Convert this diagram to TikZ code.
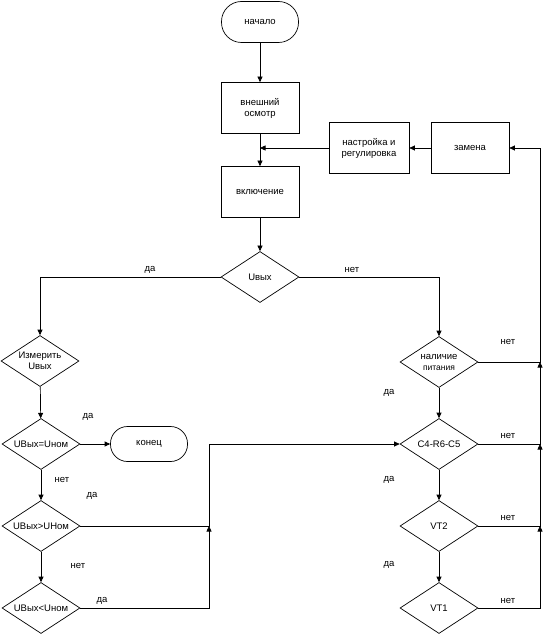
\documentclass[tikz,border=0pt]{standalone}
\usepackage{fontspec}
\setmainfont{Liberation Sans}
\usepackage{tikz}
\usetikzlibrary{calc, arrows.meta, shapes.geometric}

\tikzset{
    base/.style={draw, line width=0.7pt, align=center, inner sep=0pt, font=\fontsize{9.5}{11}\selectfont},
    term/.style={base, minimum width=77pt, rounded corners=17pt},
    block/.style={base, minimum width=78pt, minimum height=51pt},
    cond/.style={base, diamond, minimum width=78pt, minimum height=51pt, aspect=1.53},
    lbl/.style={font=\fontsize{9.5}{11}\selectfont, inner sep=0pt},
    arr/.style={line width=0.7pt, -{Triangle[length=5.5pt, width=5pt]}},
    ln/.style={line width=0.7pt}
}

\begin{document}
\begin{tikzpicture}[x=1pt, y=-1pt]
                \useasboundingbox (0,0) rectangle (546,639);
                \node[term, minimum height=41pt, rounded corners=20pt] (start) at (260,22) {начало};
                \node[block] (osm) at (260,108) {внешний\\осмотр};
                \node[block] (vkl) at (260,192) {включение};
                \node[block, minimum width=80pt] (nastr) at (369,148) {настройка и\\регулировка};
                \node[block] (zam) at (470,148) {замена};
                \node[cond] (uvyx) at (260,277) {Uвых};
                \node[cond] (izm) at (40,361) {Измерить\\Uвых};
                \node[cond] (ueq) at (41,444) {UВых=Uном};
                \node[term, minimum height=35pt] (kon) at (149,444) {конец};
                \node[cond] (ugt) at (41,526) {UВых>UНом};
                \node[cond] (ult) at (41,608) {UВых<Uном};
                \node[cond] (nal) at (439,362) {наличие\\{\fontsize{8.5}{10}\selectfont питания}};
                \node[cond] (c4) at (439,444) {C4-R6-C5};
                \node[cond] (vt2) at (439,526) {VT2};
                \node[cond] (vt1) at (439,608) {VT1};
                \coordinate (m1) at (209,526);
                \coordinate (r1) at (540,362);
                \coordinate (r2) at (540,444);
                \coordinate (r3) at (540,526);
                \draw[arr] (start) -- (osm);
                \draw[arr] (osm) -- (vkl);
                \draw[arr] (zam) -- (nastr);
                \draw[arr] (nastr.west) -- (nastr.west -| vkl.north);
                \draw[arr] (vkl) -- (uvyx);
                \draw[arr] (uvyx.west) -| (izm.north);
                \draw[arr] (uvyx.east) -| (nal.north);
                \draw[arr] (izm) -- (ueq);
                \draw[arr] (ueq) -- (kon);
                \draw[arr] (ueq) -- (ugt);
                \draw[arr] (ugt) -- (ult);
                \draw[arr] (ult.east) -| (m1);
                \draw[arr] (ugt.east) -- (m1) |- (c4.west);
                \draw[arr] (nal) -- (c4);
                \draw[arr] (c4) -- (vt2);
                \draw[arr] (vt2) -- (vt1);
                \draw[arr] (vt1.east) -| (r3);
                \draw[arr] (vt2.east) -- (r3) -- (r2);
                \draw[arr] (c4.east) -- (r2) -- (r1);
                \draw[arr] (nal.east) -- (r1) |- (zam.east);
                \node[lbl] (l1) at (150,270) {да};
                \node[lbl] (l2) at (352,270) {нет};
                \node[lbl] (l3) at (88,417) {да};
                \node[lbl] (l4) at (62,480) {нет};
                \node[lbl] (l5) at (92,496) {да};
                \node[lbl] (l6) at (78,566) {нет};
                \node[lbl] (l7) at (102,601) {да};
                \node[lbl] (l8) at (508,342) {нет};
                \node[lbl] (l9) at (389,393) {да};
                \node[lbl] (l10) at (508,436) {нет};
                \node[lbl] (l11) at (389,480) {да};
                \node[lbl] (l12) at (508,518) {нет};
                \node[lbl] (l13) at (389,565) {да};
                \node[lbl] (l14) at (508,601) {нет};
            \end{tikzpicture}
\end{document}
